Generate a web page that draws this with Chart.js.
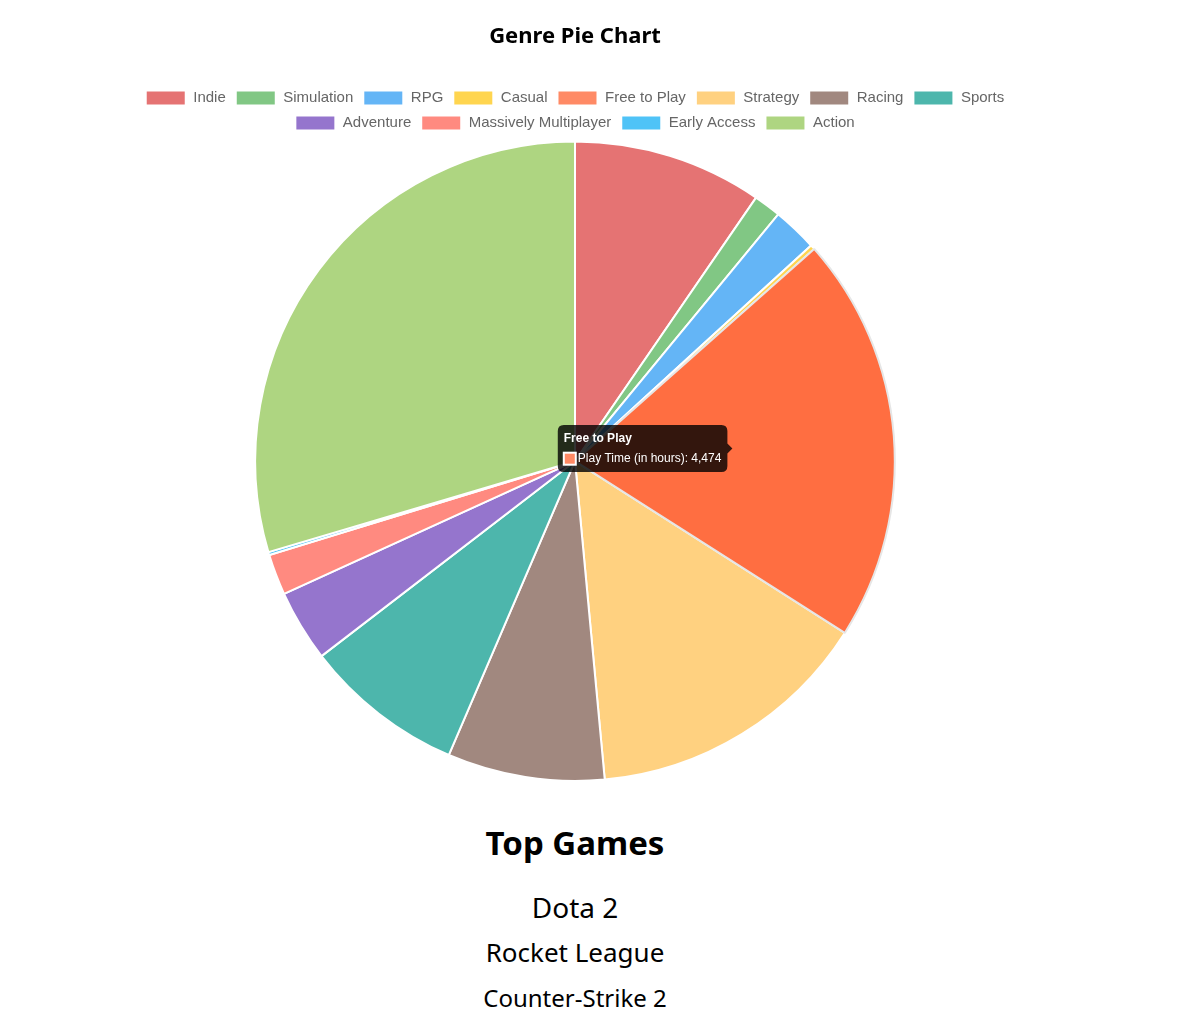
<!DOCTYPE html>
<html>
<head>
<meta charset="utf-8">
<script src="https://cdn.jsdelivr.net/npm/chart.js@4"></script>
<style>
  html, body { margin: 0; padding: 0; background: #fff; }
  #wrap { width: 1150px; }
  #chartBox { position: relative; width: 960px; height: 782px; margin-left: 95px; }
  #games { width: 1150px; text-align: center; font-family: "Noto Sans", "Open Sans", sans-serif; color: #000; }
  #games h2 { font-size: 33px; font-weight: bold; margin: 39px 0 19px 0; line-height: 44px; }
  #games p { margin: 0; }
</style>
</head>
<body>
<div id="wrap">
  <div id="chartBox"><canvas id="genreChart"></canvas></div>
  <div id="games"></div>
</div>
<script>
const genres = ["Indie", "Simulation", "RPG", "Casual", "Free to Play", "Strategy", "Racing", "Sports", "Adventure", "Massively Multiplayer", "Early Access", "Action"];
const playTimeHours = [2083, 300, 491, 50, 4474, 3152, 1727, 1763, 788, 450, 33, 6434];
const genreColors = ["#e57373", "#81c784", "#64b5f6", "#ffd54f", "#ff8a65", "#ffd180", "#a1887f", "#4db6ac", "#9575cd", "#ff8a80", "#4fc3f7", "#aed581"];
const topGames = ["Dota 2", "Rocket League", "Counter-Strike 2"];
const topGameSizes = [28, 26, 24];
const topGameLineHeights = [46, 44, 48];

const gamesDiv = document.getElementById('games');
const h2 = document.createElement('h2');
h2.textContent = 'Top Games';
gamesDiv.appendChild(h2);
topGames.forEach((g, i) => {
  const p = document.createElement('p');
  p.textContent = g;
  p.style.fontSize = topGameSizes[i] + 'px';
  p.style.lineHeight = topGameLineHeights[i] + 'px';
  gamesDiv.appendChild(p);
});

Chart.defaults.font.family = "'Liberation Sans', Arial, sans-serif";
const chart = new Chart(document.getElementById('genreChart'), {
  type: 'pie',
  data: {
    labels: genres,
    datasets: [{
      label: 'Play Time (in hours)',
      data: playTimeHours,
      backgroundColor: genreColors,
      borderColor: '#fff',
      borderWidth: 2
    }]
  },
  options: {
    responsive: true,
    maintainAspectRatio: false,
    animation: false,
    plugins: {
      title: {
        display: true,
        text: 'Genre Pie Chart',
        color: '#000',
        font: { size: 22, weight: 'bold', family: "'Noto Sans', 'Open Sans', sans-serif" },
        padding: { top: 24, bottom: 30 }
      },
      legend: {
        position: 'top',
        labels: { color: '#666', font: { size: 15 }, boxWidth: 40, padding: 10 }
      },
      tooltip: { enabled: true }
    }
  }
});

const act = [{ datasetIndex: 0, index: 4 }];
chart.setActiveElements(act);
const el = chart.getDatasetMeta(0).data[4];
const pos = el.tooltipPosition();
chart.tooltip.setActiveElements(act, { x: pos.x, y: pos.y });
chart.update();
</script>
</body>
</html>
